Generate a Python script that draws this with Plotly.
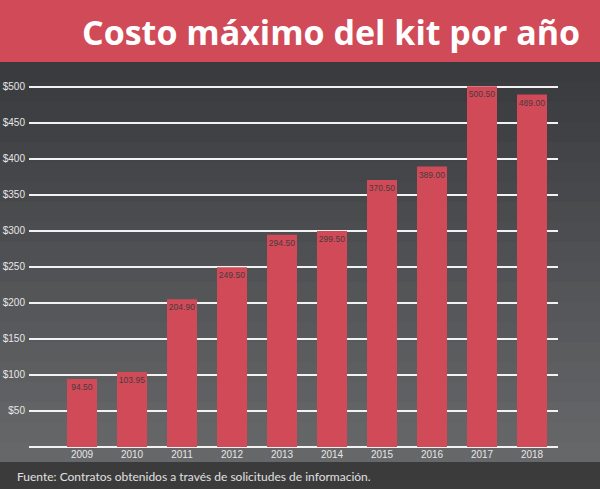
import plotly.graph_objects as go

# datos del gráfico
years = ["2009", "2010", "2011", "2012", "2013", "2014", "2015", "2016", "2017", "2018"]
max_cost = [94.50, 103.95, 204.90, 249.50, 294.50, 299.50, 370.50, 389.00, 500.50, 489.00]
tick_vals = [50, 100, 150, 200, 250, 300, 350, 400, 450, 500]
tick_text = ["$50", "$100", "$150", "$200", "$250", "$300", "$350", "$400", "$450", "$500"]

title = "Costo máximo del kit por año"
source = "Fuente: Contratos obtenidos a través de solicitudes de información."

RED = "#d04a58"
narrow = "Liberation Sans, Roboto, sans-serif"

W, H = 600, 489
L, R, T, B = 29, 42, 83, 42
plot_w = W - L - R
plot_h = H - T - B


def px_x(x):
    return (x - L) / plot_w


def px_y(y):
    return (H - B - y) / plot_h


fig = go.Figure()
fig.add_trace(go.Bar(
    x=years,
    y=max_cost,
    marker=dict(color=RED, line=dict(width=0)),
    text=["%.2f" % v for v in max_cost],
    textposition="inside",
    insidetextanchor="end",
    textangle=0,
    textfont=dict(family=narrow, size=8.5, color="#4a3a3e"),
))

fig.update_layout(
    width=W,
    height=H,
    margin=dict(l=L, r=R, t=T, b=B),
    paper_bgcolor="#3a3b3e",
    plot_bgcolor="rgba(0,0,0,0)",
    showlegend=False,
    bargap=0.4,
    uniformtext=dict(minsize=8.5, mode="show"),
    xaxis=dict(
        type="category",
        range=[-1.06, 9.52],
        automargin=False,
        showgrid=False,
        showline=False,
        zeroline=False,
        ticks="",
        tickfont=dict(family=narrow, size=10, color="#e6e6e6"),
    ),
    yaxis=dict(
        range=[0, 505],
        automargin=False,
        tickvals=tick_vals,
        ticktext=tick_text,
        showgrid=True,
        gridcolor="#f2f2f2",
        gridwidth=2,
        zeroline=True,
        zerolinecolor="#f2f2f2",
        zerolinewidth=2,
        ticks="",
        ticklabelstandoff=3,
        tickfont=dict(family=narrow, size=10, color="#e6e6e6"),
    ),
)

# fondo: degradado vertical suave que imita la foto desenfocada
for i in range(20):
    y0 = 62 + i * 20
    fig.add_shape(type="rect", xref="paper", yref="paper",
                  x0=px_x(0), x1=px_x(W), y0=px_y(min(y0 + 20, 463)), y1=px_y(y0),
                  line=dict(width=0), fillcolor="white", opacity=0.012 * i,
                  layer="below")

# franja del título y pie de página
fig.add_shape(type="rect", xref="paper", yref="paper",
              x0=px_x(0), x1=px_x(W), y0=px_y(62), y1=px_y(0),
              line=dict(width=0), fillcolor=RED, layer="below")
fig.add_shape(type="rect", xref="paper", yref="paper",
              x0=px_x(0), x1=px_x(W), y0=px_y(H), y1=px_y(463),
              line=dict(width=0), fillcolor="#3b3b3c", layer="below")

fig.add_annotation(text="<b>" + title + "</b>", xref="paper", yref="paper",
                   x=px_x(582), y=px_y(32),
                   xanchor="right", yanchor="middle", showarrow=False,
                   font=dict(family="Open Sans, Lato, sans-serif", size=34, color="white"))
fig.add_annotation(text=source, xref="paper", yref="paper",
                   x=px_x(15), y=px_y(476),
                   xanchor="left", yanchor="middle", showarrow=False,
                   font=dict(family="Lato, Open Sans, sans-serif", size=12, color="#e0e0e0"))

fig.write_html("out.html", config={"displayModeBar": False},
               post_script="document.body.style.margin='0';")
